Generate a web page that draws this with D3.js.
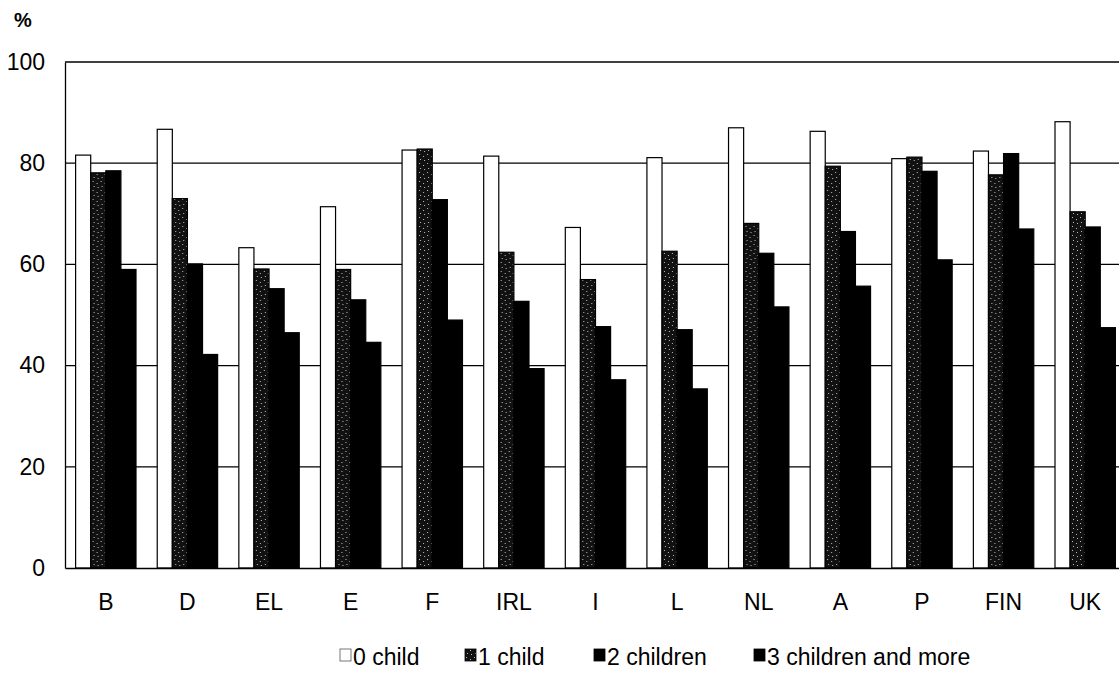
<!DOCTYPE html>
<html>
<head>
<meta charset="utf-8">
<script src="https://cdn.jsdelivr.net/npm/d3@7"></script>
<style>
  html, body { margin: 0; padding: 0; background: #fff; }
  svg { display: block; font-family: "Liberation Sans", Arial, sans-serif; }
</style>
</head>
<body>
<div id="chart"></div>
<script>
// data
const countries = ["B", "D", "EL", "E", "F", "IRL", "I", "L", "NL", "A", "P", "FIN", "UK"];
const seriesNames = ["0 child", "1 child", "2 children", "3 children and more"];
const child0 = [81.6, 86.7, 63.3, 71.4, 82.6, 81.4, 67.3, 81.1, 87.0, 86.3, 80.9, 82.4, 88.2];
const child1 = [78.1, 73.0, 59.1, 59.0, 82.8, 62.4, 57.0, 62.6, 68.1, 79.4, 81.2, 77.7, 70.4];
const child2 = [78.5, 60.1, 55.2, 53.0, 72.8, 52.7, 47.7, 47.1, 62.2, 66.5, 78.4, 81.9, 67.4];
const child3 = [59.0, 42.2, 46.5, 44.6, 49.0, 39.4, 37.2, 35.4, 51.6, 55.7, 60.9, 67.0, 47.5];
const yTicks = [0, 20, 40, 60, 80, 100];

document.addEventListener('DOMContentLoaded', () => {
    const width = 1119;
    const height = 682;
    const margin = { top: 62, right: -7, bottom: 114, left: 65 };

    const series = [child0, child1, child2, child3];

    const svg = d3.select("#chart").append("svg")
        .attr("width", width)
        .attr("height", height);

    // speckled fill for the "1 child" bars
    const defs = svg.append("defs");
    const pat = defs.append("pattern")
        .attr("id", "speckle")
        .attr("patternUnits", "userSpaceOnUse")
        .attr("width", 8)
        .attr("height", 9);
    pat.append("rect").attr("width", 8).attr("height", 9).attr("fill", "#111");
    [[1, 1], [5, 3], [2, 6], [6, 7]].forEach(([px, py]) => {
        pat.append("rect").attr("x", px).attr("y", py).attr("width", 1).attr("height", 1).attr("fill", "#bbb");
    });

    const fills = ["#fff", "url(#speckle)", "#000", "#000"];

    const x0 = d3.scaleBand()
        .domain(countries)
        .range([margin.left, width - margin.right])
        .paddingInner(0.26)
        .paddingOuter(0.13);

    const x1 = d3.scaleBand()
        .domain(d3.range(series.length))
        .range([0, x0.bandwidth()]);

    const y = d3.scaleLinear()
        .domain([0, 100])
        .range([height - margin.bottom, margin.top]);

    // gridlines
    svg.append("g")
        .selectAll("line")
        .data(yTicks.filter(d => d > 0))
        .join("line")
        .attr("x1", margin.left)
        .attr("x2", width - margin.right)
        .attr("y1", d => y(d))
        .attr("y2", d => y(d))
        .attr("stroke", "#000")
        .attr("stroke-width", 1.3);

    // bars
    svg.append("g")
        .selectAll("g")
        .data(countries)
        .join("g")
        .attr("transform", c => `translate(${x0(c)},0)`)
        .selectAll("rect")
        .data((c, i) => series.map((s, k) => ({ k, v: s[i] })))
        .join("rect")
        .attr("x", d => x1(d.k))
        .attr("y", d => y(d.v))
        .attr("width", x1.bandwidth())
        .attr("height", d => y(0) - y(d.v))
        .attr("fill", d => fills[d.k])
        .attr("stroke", "#000")
        .attr("stroke-width", 1.2);

    // y axis
    const yAxis = svg.append("g")
        .attr("transform", `translate(${margin.left},0)`)
        .call(d3.axisLeft(y).tickValues(yTicks).tickSize(0).tickPadding(20));
    yAxis.select(".domain").attr("stroke", "#000").attr("stroke-width", 1.3);
    yAxis.selectAll("text")
        .attr("font-size", 23)
        .attr("font-family", "'Liberation Sans', Arial, sans-serif")
        .attr("fill", "#000");

    // x axis
    const xAxis = svg.append("g")
        .attr("transform", `translate(0,${y(0)})`)
        .call(d3.axisBottom(x0).tickSize(0).tickPadding(26));
    xAxis.select(".domain").attr("stroke", "#000").attr("stroke-width", 1.3);
    xAxis.selectAll("text")
        .attr("font-size", 23)
        .attr("font-family", "'Liberation Sans', Arial, sans-serif")
        .attr("fill", "#000");

    // unit label
    svg.append("text")
        .attr("x", 14)
        .attr("y", 27)
        .attr("font-size", 20)
        .attr("font-weight", "bold")
        .text("%");

    // legend
    const legendX = [340, 465, 594, 754];
    const legend = svg.append("g")
        .selectAll("g")
        .data(seriesNames)
        .join("g")
        .attr("transform", (d, i) => `translate(${legendX[i]},665)`);
    legend.append("rect")
        .attr("x", 0)
        .attr("y", -16)
        .attr("width", 11)
        .attr("height", 12)
        .attr("fill", (d, i) => fills[i])
        .attr("stroke", (d, i) => i === 0 ? "#555" : "#000")
        .attr("stroke-width", 0.8);
    legend.append("text")
        .attr("x", 13)
        .attr("y", 0)
        .attr("font-size", 23)
        .text(d => d);
});
</script>
</body>
</html>
